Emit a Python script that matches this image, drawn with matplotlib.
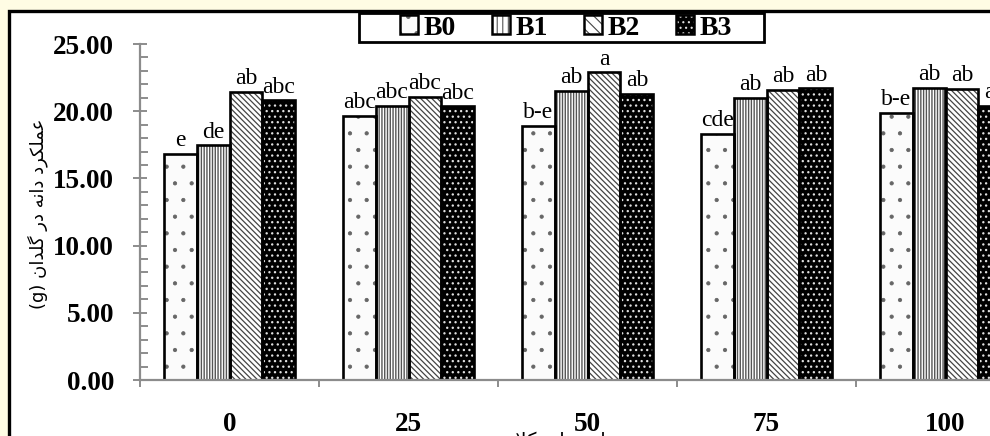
import matplotlib
matplotlib.use("Agg")
import matplotlib.pyplot as plt
from matplotlib.patches import Patch, Rectangle
from matplotlib.legend_handler import HandlerTuple
import numpy as np

# ---- data ----
levels = ["0", "25", "50", "75", "100"]
series = ["B0", "B1", "B2", "B3"]
b0 = [16.85, 19.68, 18.89, 18.32, 19.88]
b1 = [17.46, 20.39, 21.53, 20.99, 21.73]
b2 = [21.43, 21.04, 22.89, 21.60, 21.65]
b3 = [20.81, 20.35, 21.28, 21.70, 20.40]
letters_b0 = ["e", "abc", "b-e", "cde", "b-e"]
letters_b1 = ["de", "abc", "ab", "ab", "ab"]
letters_b2 = ["ab", "abc", "a", "ab", "ab"]
letters_b3 = ["abc", "abc", "ab", "ab", "ab"]

# Persian labels written in visual order with presentation forms
ylab = "(g) \uFEE5\uFE8D\uFEAA\uFEE0\uFB94 \uFEAD\uFEA9 \uFEEA\uFEE7\uFE8D\uFEA9 \uFEA9\uFEAE\uFB91\uFEE0\uFEE4\uFECB"
xlab = "\uFE95\uFEFC\uFB91 \uFEED\uFEE7\uFE8E\uFEE7 \uFEA1\uFEEE\uFEC4\uFEB3"

# ---- styles ----
styles = [
    dict(face="#fbfbfb", hcol="#666666", hatch=".", hlw=0.6),
    dict(face="white", hcol="#555555", hatch="||||||", hlw=1.0),
    dict(face="white", hcol="#444444", hatch="\\\\\\\\\\\\", hlw=0.9),
    dict(face="black", hcol="#e0e0e0", hatch="...", hlw=0.9),
]

W, H = 990, 436
fig = plt.figure(figsize=(W / 100, H / 100), dpi=100)
fig.patch.set_facecolor("#FFFCE4")

# black frame around chart (extends past the right/bottom edge)
frame = Rectangle((9 / W, -0.2), 1.2, 1 - 11 / H + 0.2, transform=fig.transFigure,
                  facecolor="white", edgecolor="black", linewidth=2.4, zorder=-5)
fig.patches.append(frame)

ax = fig.add_axes([140 / W, 56 / H, 895 / W, 336 / H])
ax.set_zorder(2)
ax.patch.set_visible(False)

x = np.arange(len(levels))
bw = 0.184
all_vals = [b0, b1, b2, b3]
all_letters = [letters_b0, letters_b1, letters_b2, letters_b3]
for i, (vals, st, lets) in enumerate(zip(all_vals, styles, all_letters)):
    pos = x + (i - 1.5) * bw
    plt.rcParams["hatch.linewidth"] = st["hlw"]
    ax.bar(pos, vals, bw, color=st["face"], edgecolor=st["hcol"], hatch=st["hatch"],
           linewidth=0, zorder=2)
    ax.bar(pos, vals, bw, color="none", edgecolor="black", linewidth=1.9, zorder=3)
    for px, v, t in zip(pos, vals, lets):
        ax.annotate(t, (px, v), xytext=(0, 2), textcoords="offset points",
                    ha="center", va="bottom", fontsize=17,
                    family="Liberation Serif", zorder=4)

ax.set_xlim(-0.5, len(levels) - 0.5)
ax.set_ylim(0, 25)

for s in ["top", "right"]:
    ax.spines[s].set_visible(False)
for s in ["left", "bottom"]:
    ax.spines[s].set_color("#8c8c8c")
    ax.spines[s].set_linewidth(1.6)
ax.spines["bottom"].set_zorder(5)

ax.set_yticks(np.arange(0, 25.01, 5))
ax.set_yticks(np.arange(0, 25.01, 1), minor=True)
ax.set_yticklabels([f"{v:.2f}" for v in np.arange(0, 25.01, 5)])
ax.tick_params(axis="y", which="major", direction="inout", length=9.5, width=1.4,
               color="#8c8c8c", pad=14, labelsize=19.5)
ax.tick_params(axis="y", which="minor", direction="in", length=6, width=1.4,
               color="#8c8c8c")

ax.set_xticks(np.arange(-0.5, len(levels), 1))
ax.set_xticklabels([])
ax.set_xticks(x, minor=True)
ax.set_xticklabels(levels, minor=True)
ax.tick_params(axis="x", which="major", direction="out", length=5, width=1.4,
               color="#8c8c8c")
ax.tick_params(axis="x", which="minor", length=0, pad=23, labelsize=19.5)

for lab in ax.get_yticklabels() + ax.get_xticklabels(minor=True):
    lab.set_family("Liberation Serif")
    lab.set_fontweight("bold")

fig.text(38 / W, 1 - 214 / H, ylab, rotation=90, ha="center", va="center",
         fontsize=13, family=["DejaVu Sans"])
fig.text(565 / W, 1 - 432 / H, xlab, ha="center", va="top",
         fontsize=14, family=["DejaVu Sans"])

# legend box drawn separately so the items can sit with wide side margins
box = Rectangle((359 / W, 1 - 42 / H), 405 / W, 29 / H, transform=fig.transFigure,
                facecolor="white", edgecolor="black", linewidth=2.0, zorder=9)
fig.patches.append(box)

handles = []
for st in styles:
    hp = Patch(facecolor=st["face"], edgecolor=st["hcol"], hatch=st["hatch"][:3], linewidth=0)
    op = Patch(facecolor="none", edgecolor="black", linewidth=1.8)
    handles.append((hp, op))
plt.rcParams["hatch.linewidth"] = 0.8
leg = fig.legend(handles, series, ncol=4, loc="center",
                 bbox_to_anchor=(566 / W, 1 - 28 / H),
                 handler_map={tuple: HandlerTuple(ndivide=1, pad=0)},
                 handlelength=0.65, handleheight=0.65, handletextpad=0.2,
                 columnspacing=1.3, borderpad=0.0, frameon=False,
                 prop={"family": "Liberation Serif", "weight": "bold", "size": 20})
leg.set_zorder(10)

fig.savefig("out.png", dpi=100, facecolor=fig.get_facecolor())
